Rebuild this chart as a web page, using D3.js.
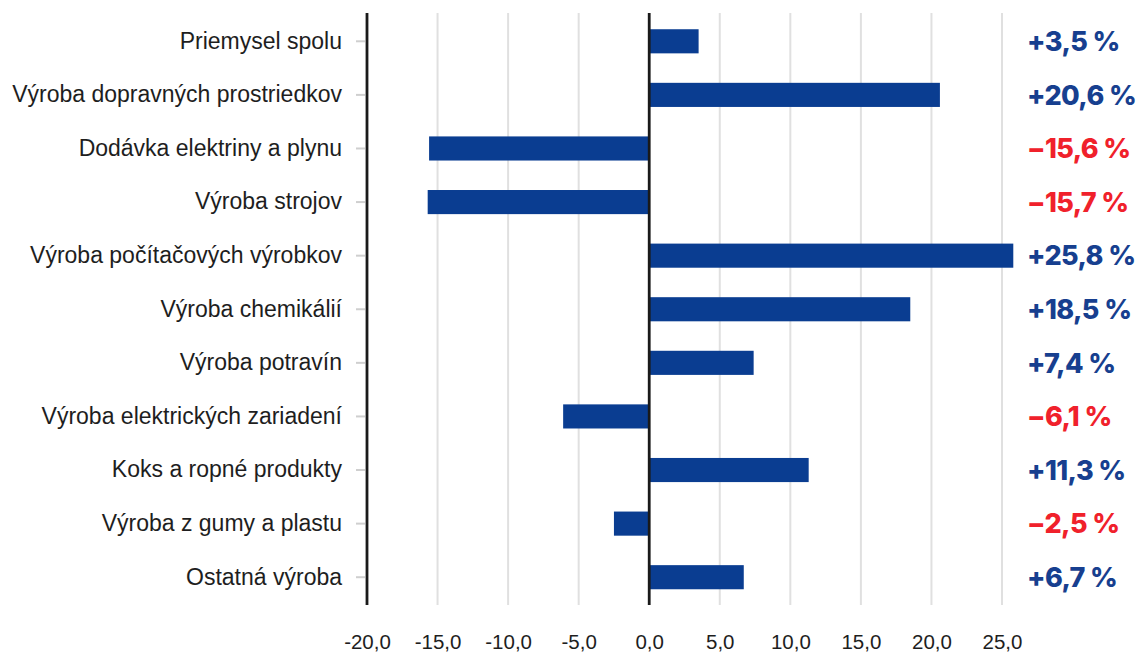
<!DOCTYPE html>
<html>
<head>
<meta charset="utf-8">
<script src="https://cdn.jsdelivr.net/npm/d3@7"></script>
<style>
  body { margin: 0; background: #fff; }
  svg { display: block; }
</style>
</head>
<body>
<svg id="chart" width="1140" height="657"></svg>
<script>
// data {{{ //
const categories = [
  "Priemysel spolu",
  "Výroba dopravných prostriedkov",
  "Dodávka elektriny a plynu",
  "Výroba strojov",
  "Výroba počítačových výrobkov",
  "Výroba chemikálií",
  "Výroba potravín",
  "Výroba elektrických zariadení",
  "Koks a ropné produkty",
  "Výroba z gumy a plastu",
  "Ostatná výroba"
];
const values = [3.5, 20.6, -15.6, -15.7, 25.8, 18.5, 7.4, -6.1, 11.3, -2.5, 6.7];
const valueLabels = ["+3,5 %", "+20,6 %", "\u221215,6 %", "\u221215,7 %", "+25,8 %", "+18,5 %",
  "+7,4 %", "\u22126,1 %", "+11,3 %", "\u22122,5 %", "+6,7 %"];
const xTicks = [-20, -15, -10, -5, 0, 5, 10, 15, 20, 25];
// }}} data //

const svg = d3.select("#chart");
const barColor = "#0a3d91";
const blue = "#173f8f";
const red = "#f0212b";

const x = d3.scaleLinear().domain([-20, 25]).range([367, 1002]);
const y = d3.scaleBand().domain(categories).range([14.5, 604]).paddingInner(0.55).paddingOuter(0.275);
const lineTop = 13, lineBottom = 605;

// grid lines
svg.append("g")
  .selectAll("line")
  .data(xTicks.filter(d => d !== 0 && d !== -20))
  .enter().append("line")
  .attr("x1", d => x(d)).attr("x2", d => x(d))
  .attr("y1", lineTop).attr("y2", lineBottom)
  .attr("stroke", "#e0e0e0")
  .attr("stroke-width", 2);

// bars
svg.append("g")
  .selectAll("rect")
  .data(values)
  .enter().append("rect")
  .attr("x", d => x(Math.min(0, d)))
  .attr("y", (d, i) => y(categories[i]))
  .attr("width", d => Math.abs(x(d) - x(0)))
  .attr("height", y.bandwidth())
  .attr("fill", barColor);

// black vertical lines at -20 and 0
svg.append("g")
  .selectAll("line")
  .data([-20, 0])
  .enter().append("line")
  .attr("x1", d => x(d)).attr("x2", d => x(d))
  .attr("y1", lineTop).attr("y2", lineBottom)
  .attr("stroke", "#1a1a1a")
  .attr("stroke-width", 2.8);

// y-axis
const yAxis = svg.append("g")
  .attr("transform", "translate(" + x(-20) + ",0)")
  .call(d3.axisLeft(y).tickSize(11).tickPadding(14));
yAxis.select(".domain").remove();
yAxis.selectAll(".tick line").attr("stroke", "#cfcfcf").attr("stroke-width", 2).attr("x2", -11).attr("x1", -2);
yAxis.selectAll(".tick text")
  .attr("fill", "#1e1e1e")
  .style("font-family", "'Liberation Sans', Arial, sans-serif")
  .style("font-size", "23px");

// x-axis
const xAxis = svg.append("g")
  .attr("transform", "translate(0,631)")
  .call(d3.axisBottom(x).tickValues(xTicks).tickSize(0)
    .tickFormat(d => d.toFixed(1).replace(".", ",")));
xAxis.select(".domain").remove();
xAxis.selectAll(".tick text")
  .attr("fill", "#1e1e1e")
  .style("font-family", "'Liberation Sans', Arial, sans-serif")
  .style("font-size", "20.5px");

// value labels on the right
svg.append("g")
  .selectAll("text")
  .data(valueLabels)
  .enter().append("text")
  .attr("x", 1027)
  .attr("y", (d, i) => y(categories[i]) + y.bandwidth() / 2)
  .attr("dy", "0.36em")
  .attr("fill", (d, i) => values[i] < 0 ? red : blue)
  .style("font-family", "Inter, 'Noto Sans', sans-serif")
  .style("font-weight", 800)
  .style("font-size", "27px")
  .style("letter-spacing", "-0.6px")
  .text(d => d);
</script>
</body>
</html>
